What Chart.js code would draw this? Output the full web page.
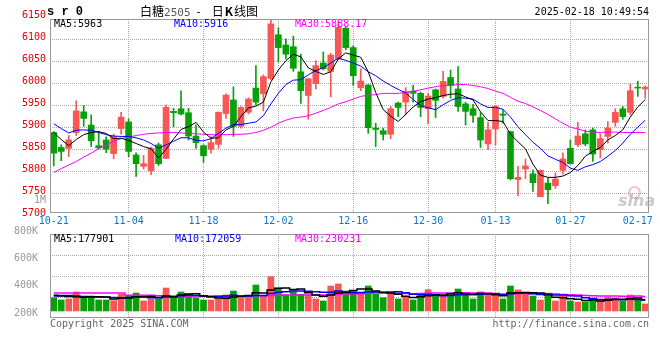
<!DOCTYPE html>
<html><head><meta charset="utf-8">
<script src="https://cdn.jsdelivr.net/npm/chart.js@4/dist/chart.umd.min.js"></script>
<style>
html,body{margin:0;padding:0;background:#fff;}
#wrap{position:relative;width:660px;height:360px;overflow:hidden;font-family:"DejaVu Sans Mono",monospace;font-size:10px;}
canvas{position:absolute;left:0;}
.t{position:absolute;white-space:nowrap;line-height:12px;font-size:10px;font-family:"DejaVu Sans Mono",monospace;}
</style></head><body>
<div id="wrap">
<canvas id="price" width="660" height="228" style="top:0"></canvas>
<canvas id="vol" width="660" height="100" style="top:226px"></canvas>
<div class="t" style="left:47px;top:6px;font:bold 12px 'Liberation Mono',monospace;line-height:12px;">s r 0</div>
<div class="t" style="left:140px;top:4px;font-size:12px;line-height:14px;font-family:'Noto Sans CJK SC',sans-serif;">白糖<span style="font-family:'DejaVu Sans Mono';font-size:11px;color:#555">2505</span><span style="margin:0 11px 0 6px">-</span>日<b style="margin:0 1px">K</b>线图</div>
<div class="t" style="right:11px;top:6px;color:#000;">2025-02-18 10:49:54</div>
<div class="t" style="left:54px;top:18px;color:#000;">MA5:5963</div>
<div class="t" style="left:174px;top:18px;color:#0000ff;">MA10:5916</div>
<div class="t" style="left:295px;top:18px;color:#ff00ff;">MA30:5888.17</div>
<div class="t" style="right:614px;top:194px;color:#999;">1M</div>
<div class="t" style="left:54px;top:233px;color:#000;">MA5:177901</div>
<div class="t" style="left:175px;top:233px;color:#0000ff;">MA10:172059</div>
<div class="t" style="left:295px;top:233px;color:#ff00ff;">MA30:230231</div>
<div class="t" style="left:50px;top:318px;color:#666;">Copyright 2025 SINA.COM</div>
<div class="t" style="right:11px;top:318px;color:#666;">http://finance.sina.com.cn</div>
<div style="position:absolute;left:628px;top:186px;width:9px;height:9px;border:2px solid rgba(225,120,120,0.45);border-radius:50%;"></div>
<div class="t" style="left:618px;top:194px;font:italic bold 16px 'DejaVu Sans',sans-serif;line-height:14px;color:rgba(150,150,150,0.5);">sina</div>
</div>
<script>
const dates = ['10-21','10-22','10-23','10-24','10-25','10-28','10-29','10-30','10-31','11-01',
 '11-04','11-05','11-06','11-07','11-08','11-11','11-12','11-13','11-14','11-15',
 '11-18','11-19','11-20','11-21','11-22','11-25','11-26','11-27','11-28','11-29',
 '12-02','12-03','12-04','12-05','12-06','12-09','12-10','12-11','12-12','12-13',
 '12-16','12-17','12-18','12-19','12-20','12-23','12-24','12-25','12-26','12-27',
 '12-30','12-31','01-02','01-03','01-06','01-07','01-08','01-09','01-10','01-13',
 '01-14','01-15','01-16','01-17','01-20','01-21','01-22','01-23','01-24','01-27',
 '02-05','02-06','02-07','02-10','02-11','02-12','02-13','02-14','02-17','02-18'];
const labelDates = ['10-21','11-04','11-18','12-02','12-16','12-30','01-13','01-27','02-17'];
const gridDates = ['11-04','11-18','12-02','12-16','12-30','01-13','01-27'];
const priceTicks = [5700,5750,5800,5850,5900,5950,6000,6050,6100,6150];
const volTicks = [200,400,600,800];

const opens = [5888,5854,5852,5888,5935,5905,5858,5871,5840,5897,
 5912,5837,5811,5801,5860,5829,5936,5942,5933,5880,
 5858,5850,5861,5931,5962,5902,5934,5989,5976,6011,
 6110,6087,6083,6026,5972,5999,6046,6027,6055,6125,
 6081,5990,5996,5898,5892,5884,5955,5957,5982,5977,
 5942,5985,5970,6013,5987,5953,5942,5922,5862,5896,
 5930,5890,5781,5805,5794,5742,5773,5767,5802,5852,
 5860,5885,5894,5849,5879,5911,5942,5934,5991,5987];
const highs = [5890,5860,5881,5960,5949,5928,5890,5878,5884,5934,
 5919,5842,5836,5855,5864,5951,5943,5983,5943,5905,
 5860,5879,5935,5976,5992,5947,5967,6040,6019,6144,
 6126,6101,6107,6066,6011,6051,6071,6068,6140,6128,
 6085,6033,5997,5909,5898,5947,5957,5990,5995,5980,
 5977,5987,6027,6030,6038,5957,5952,5933,5911,5949,
 5939,5891,5811,5828,5803,5803,5784,5796,5842,5871,
 5911,5894,5898,5885,5913,5942,5947,5998,6005,5994];
const lows = [5812,5824,5833,5881,5902,5856,5851,5842,5828,5884,
 5833,5788,5805,5792,5813,5829,5901,5928,5871,5852,
 5820,5841,5852,5920,5879,5898,5930,5951,5937,6008,
 6048,6055,6027,5954,5918,5987,6030,5969,6054,6076,
 5995,5983,5886,5856,5871,5874,5924,5928,5957,5924,
 5908,5922,5966,5966,5936,5905,5911,5854,5849,5860,
 5909,5780,5744,5783,5754,5742,5726,5761,5793,5816,
 5856,5858,5822,5830,5864,5902,5918,5928,5970,5966];
const closes = [5841,5845,5871,5937,5920,5869,5853,5850,5879,5923,
 5845,5817,5817,5852,5817,5945,5933,5930,5880,5865,
 5835,5865,5934,5973,5902,5945,5964,5957,6015,6135,
 6081,6066,6034,5983,6010,6040,6033,6064,6127,6081,
 6017,6005,5899,5895,5884,5942,5945,5981,5977,5945,
 5971,5961,6004,5995,5947,5936,5927,5871,5894,5947,
 5927,5783,5786,5812,5774,5802,5758,5782,5828,5817,
 5880,5862,5839,5874,5898,5934,5924,5983,5989,5991];
const ma5 = [5888,5872,5858,5872,5883,5888,5890,5886,5874,5875,
 5870,5863,5856,5851,5830,5850,5873,5895,5901,5911,
 5889,5875,5876,5894,5902,5924,5944,5948,5957,6003,
 6030,6051,6066,6060,6035,6027,6020,6026,6055,6069,
 6064,6059,6026,5979,5940,5925,5913,5929,5946,5958,
 5964,5967,5972,5975,5976,5969,5962,5935,5915,5915,
 5913,5884,5867,5851,5816,5791,5786,5786,5789,5797,
 5813,5834,5845,5854,5871,5881,5894,5923,5946,5963];
const ma10 = [5908,5897,5887,5893,5894,5893,5888,5883,5880,5879,
 5879,5876,5871,5863,5852,5860,5868,5876,5876,5870,
 5869,5874,5886,5898,5906,5906,5909,5912,5926,5953,
 5977,5997,6007,6008,6019,6029,6035,6046,6057,6052,
 6046,6039,6026,6017,6005,5995,5986,5978,5963,5949,
 5944,5940,5951,5961,5967,5966,5964,5953,5945,5945,
 5941,5923,5901,5883,5866,5852,5835,5827,5820,5807,
 5802,5810,5815,5822,5834,5847,5864,5884,5900,5916];
const ma30 = [5797,5806,5814,5822,5832,5841,5851,5860,5868,5874,
 5878,5881,5884,5886,5887,5888,5888,5887,5886,5885,
 5884,5883,5883,5883,5884,5884,5885,5888,5893,5900,
 5909,5916,5921,5923,5926,5932,5938,5945,5953,5958,
 5964,5970,5973,5974,5977,5977,5977,5979,5982,5985,
 5989,5992,5995,5995,5997,5997,5995,5992,5988,5982,
 5977,5968,5959,5954,5946,5938,5929,5919,5909,5900,
 5896,5891,5889,5888,5889,5889,5888,5888,5888,5888];
// volume, thousands of lots
const volumes = [210,174,190,300,210,237,174,174,163,264,
 248,284,158,190,190,363,226,300,269,210,
 174,174,190,253,316,226,237,411,237,542,
 363,253,305,264,253,190,158,395,427,316,
 316,280,395,264,210,264,190,226,174,269,
 337,237,237,284,348,264,190,300,264,264,
 190,395,332,284,237,174,237,158,237,158,
 142,142,190,158,221,205,158,253,190,111];
const volMa5 = [248,237,229,224,216,223,223,220,191,202,
 204,226,223,229,213,237,226,254,270,273,
 235,226,204,201,221,232,245,289,286,330,
 359,362,340,346,288,253,234,251,284,297,
 322,346,346,314,292,283,264,231,213,224,
 239,248,251,273,289,273,264,277,273,256,
 242,283,289,292,288,284,253,218,209,193,
 186,167,174,158,171,183,186,199,205,178];
const volMa10 = [237,245,245,237,229,224,221,218,213,210,
 213,224,221,210,209,221,226,239,250,243,
 237,226,229,235,248,234,235,246,243,277,
 295,303,314,316,310,305,297,295,314,292,
 288,291,299,299,295,302,305,289,264,259,
 261,256,240,243,256,256,256,264,273,272,
 258,273,283,283,272,262,267,253,251,240,
 235,210,196,183,182,185,177,186,182,172];
const volMa30 = [284,284,284,284,284,284,284,284,284,284,
 250,250,250,250,240,238,237,236,236,236,
 235,235,236,236,237,237,238,239,241,243,
 248,251,254,253,254,253,253,261,269,270,
 273,273,281,283,284,281,280,277,273,275,
 281,283,284,286,288,288,286,283,284,275,
 269,273,275,275,275,273,277,269,262,258,
 251,246,240,237,237,235,234,234,235,230];

const UP = '#fa5656', DOWN = '#08a008', GRID = '#aaaaaa', FRAME = '#999999';
const candleColors = closes.map((c, i) => c >= opens[i] ? UP : DOWN);
const monoFont = {family: 'DejaVu Sans Mono', size: 10};

const framePlugin = {
  id: 'frame',
  afterDraw(chart) {
    const {ctx, chartArea: a} = chart;
    ctx.save();
    ctx.strokeStyle = FRAME;
    ctx.lineWidth = 1;
    ctx.strokeRect(a.left + 0.5, a.top + 0.5, a.right - a.left - 1, a.bottom - a.top - 1);
    ctx.restore();
  }
};

const xGridColor = ctx => gridDates.includes(dates[ctx.index]) ? GRID : 'rgba(0,0,0,0)';
const yMin = 5705, yMax = 6146;

new Chart(document.getElementById('price'), {
  type: 'bar',
  data: {
    labels: dates,
    datasets: [
      {type: 'line', data: ma5, borderColor: '#000000', borderWidth: 1, pointRadius: 0, tension: 0, order: 1},
      {type: 'line', data: ma10, borderColor: '#0000ff', borderWidth: 1, pointRadius: 0, tension: 0, order: 1},
      {type: 'line', data: ma30, borderColor: '#ff00ff', borderWidth: 1, pointRadius: 0, tension: 0, order: 1},
      {type: 'bar', data: dates.map((d, i) => [opens[i], closes[i]]), backgroundColor: candleColors,
        barThickness: 6, minBarLength: 1, grouped: false, order: 2},
      {type: 'bar', data: dates.map((d, i) => [lows[i], highs[i]]), backgroundColor: candleColors,
        barThickness: 1, grouped: false, order: 3}
    ]
  },
  options: {
    responsive: false, animation: false, devicePixelRatio: 1, events: [],
    layout: {padding: {top: 19, right: 11, left: 0, bottom: 0}},
    plugins: {legend: {display: false}, tooltip: {enabled: false}},
    scales: {
      x: {
        type: 'category', offset: true,
        grid: {offset: false, drawTicks: false, color: xGridColor, lineWidth: 1},
        border: {display: false, dash: [1, 1]},
        ticks: {autoSkip: false, maxRotation: 0, minRotation: 0, padding: 2, color: '#0a78d2', font: monoFont,
          callback: (v, i) => labelDates.includes(dates[i]) ? dates[i] : ''},
        afterFit: s => { s.height = 15; s.paddingLeft = 0; s.paddingRight = 0; }
      },
      y: {
        type: 'linear', position: 'left', min: yMin, max: yMax,
        afterBuildTicks: s => { s.ticks = priceTicks.map(v => ({value: v})); },
        afterFit: s => { s.width = 50; s.paddingTop = 0; s.paddingBottom = 0; },
        grid: {drawTicks: false, color: ctx => (ctx.tick && ctx.tick.value > yMin && ctx.tick.value < yMax) ? GRID : 'rgba(0,0,0,0)'},
        border: {display: false, dash: [1, 1]},
        ticks: {padding: 4, labelOffset: -2, color: '#e60000', font: monoFont, callback: v => String(v)}
      }
    }
  },
  plugins: [framePlugin]
});

new Chart(document.getElementById('vol'), {
  type: 'bar',
  data: {
    labels: dates,
    datasets: [
      {type: 'line', data: volMa5, borderColor: '#000000', borderWidth: 1.5, pointRadius: 0, stepped: 'middle', yAxisID: 'yv', order: 1},
      {type: 'line', data: volMa10, borderColor: '#0000ff', borderWidth: 1.5, pointRadius: 0, stepped: 'middle', yAxisID: 'yv', order: 1},
      {type: 'line', data: volMa30, borderColor: '#ff00ff', borderWidth: 1.5, pointRadius: 0, stepped: 'middle', yAxisID: 'yv', order: 1},
      {type: 'bar', data: volumes, backgroundColor: candleColors, barThickness: 6, yAxisID: 'yv', order: 2}
    ]
  },
  options: {
    responsive: false, animation: false, devicePixelRatio: 1, events: [],
    layout: {padding: {top: 8, right: 11, left: 0, bottom: 8}},
    plugins: {legend: {display: false}, tooltip: {enabled: false}},
    scales: {
      x: {
        type: 'category', offset: true,
        grid: {offset: false, drawTicks: false, color: xGridColor, lineWidth: 1},
        border: {display: false, dash: [1, 1]},
        ticks: {display: false},
        afterFit: s => { s.height = 0; s.paddingLeft = 0; s.paddingRight = 0; }
      },
      yv: {
        type: 'linear', position: 'left', weight: 0, min: -111, max: 1217,
        afterBuildTicks: s => { s.ticks = [0, 1, 2, 3, 4].map(k => ({value: s.min + k * (s.max - s.min) / 4})); },
        afterFit: s => { s.width = 0; s.paddingTop = 0; s.paddingBottom = 0; },
        grid: {drawTicks: false, color: ctx => (ctx.index > 0 && ctx.index < 4) ? GRID : 'rgba(0,0,0,0)'},
        border: {display: false, dash: [1, 1]},
        ticks: {display: false}
      },
      yl: {
        type: 'linear', position: 'left', weight: 1, min: 163, max: 778,
        afterBuildTicks: s => { s.ticks = volTicks.map(v => ({value: v})); },
        afterFit: s => { s.width = 50; s.paddingTop = 0; s.paddingBottom = 0; },
        grid: {display: false},
        border: {display: false},
        ticks: {padding: 4, color: '#999999', font: monoFont, callback: v => v + 'K'}
      }
    }
  },
  plugins: [framePlugin]
});
</script>
</body></html>
